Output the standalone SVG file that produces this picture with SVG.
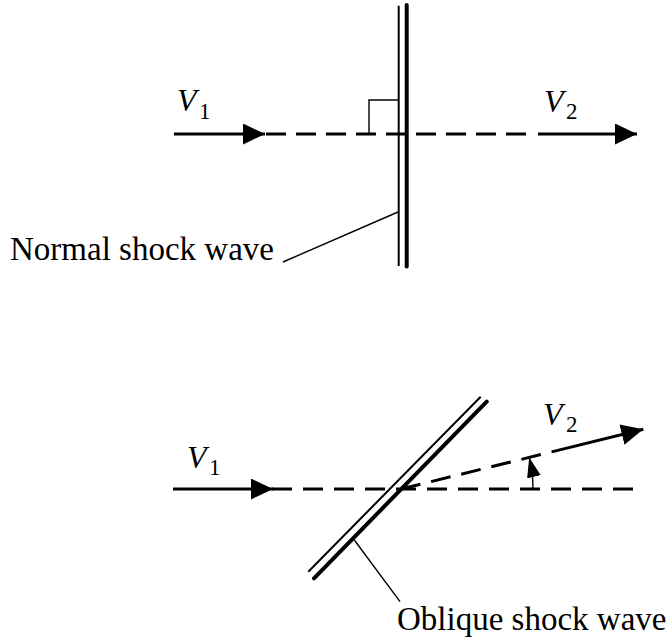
<svg xmlns="http://www.w3.org/2000/svg" width="670" height="641" viewBox="0 0 670 641">
<style>
.ln{stroke:#000;stroke-width:3;fill:none}
.dash{stroke:#000;stroke-width:3;fill:none;stroke-dasharray:20 10}
.dash2{stroke:#000;stroke-width:3;fill:none;stroke-dasharray:20 11}
.thin{stroke:#000;stroke-width:1.4;fill:none}
.sw1{stroke:#000;stroke-width:2;fill:none}
.sw2{stroke:#000;stroke-width:4;fill:none;stroke-linecap:round}
.lbl{font-family:"Liberation Serif","Times New Roman",serif;font-size:33px;fill:#000}
.v{font-family:"Liberation Serif","Times New Roman",serif;font-style:italic;font-size:32px;fill:#000}
.sub{font-family:"Liberation Serif","Times New Roman",serif;font-size:23px;fill:#000}
</style>
<defs>
<marker id="ah" markerUnits="userSpaceOnUse" markerWidth="22" markerHeight="21" refX="22" refY="10.5" orient="auto">
<path d="M0,0 L22,10.5 L0,21 Z" fill="#000"/>
</marker>
<marker id="ahs" markerUnits="userSpaceOnUse" markerWidth="20" markerHeight="14" refX="20" refY="7" orient="auto">
<path d="M0,0 L20,7 L0,14 Z" fill="#000"/>
</marker>
</defs>
<g id="connectors">
<line class="ln" x1="174" y1="134" x2="265" y2="134" marker-end="url(#ah)"/>
<line class="dash" x1="266" y1="134" x2="536" y2="134"/>
<line class="ln" x1="538" y1="134" x2="637" y2="134" marker-end="url(#ah)"/>
<polyline class="thin" points="369,134 369,100 398,100"/>
<line class="thin" x1="398" y1="212" x2="283" y2="262"/>
<line class="ln" x1="173" y1="489" x2="273" y2="489" marker-end="url(#ah)"/>
<line class="dash2" x1="272" y1="489" x2="633" y2="489"/>
<line class="dash2" x1="401" y1="489" x2="551.7" y2="451.9"/>
<line class="ln" x1="551.7" y1="451.9" x2="643.3" y2="429.3" marker-end="url(#ah)"/>
<path class="thin" d="M533,489 A132,132 0 0 0 529.2,457.4" marker-end="url(#ahs)"/>
<line class="thin" x1="354.3" y1="540" x2="400" y2="601.7"/>
</g>
<g id="normal-shock">
<line class="sw1" x1="398.7" y1="5.7" x2="398.7" y2="266"/>
<line class="sw2" x1="406.7" y1="5" x2="406.7" y2="266.5"/>
</g>
<g id="oblique-shock">
<line class="sw1" x1="308.3" y1="571.7" x2="480.7" y2="396.7"/>
<line class="sw2" x1="314" y1="578.3" x2="486.7" y2="401.7"/>
</g>
<g id="label-normal"><text class="lbl" x="10" y="260">Normal shock wave</text></g>
<g id="label-oblique"><text class="lbl" x="397" y="630">Oblique shock wave</text></g>
<g id="label-v1-top"><text class="v" x="177" y="111">V</text><text class="sub" x="199" y="119">1</text></g>
<g id="label-v2-top"><text class="v" x="544" y="112">V</text><text class="sub" x="566" y="119">2</text></g>
<g id="label-v1-bottom"><text class="v" x="187" y="468">V</text><text class="sub" x="209" y="475">1</text></g>
<g id="label-v2-bottom"><text class="v" x="543" y="425">V</text><text class="sub" x="566" y="432">2</text></g>
</svg>
